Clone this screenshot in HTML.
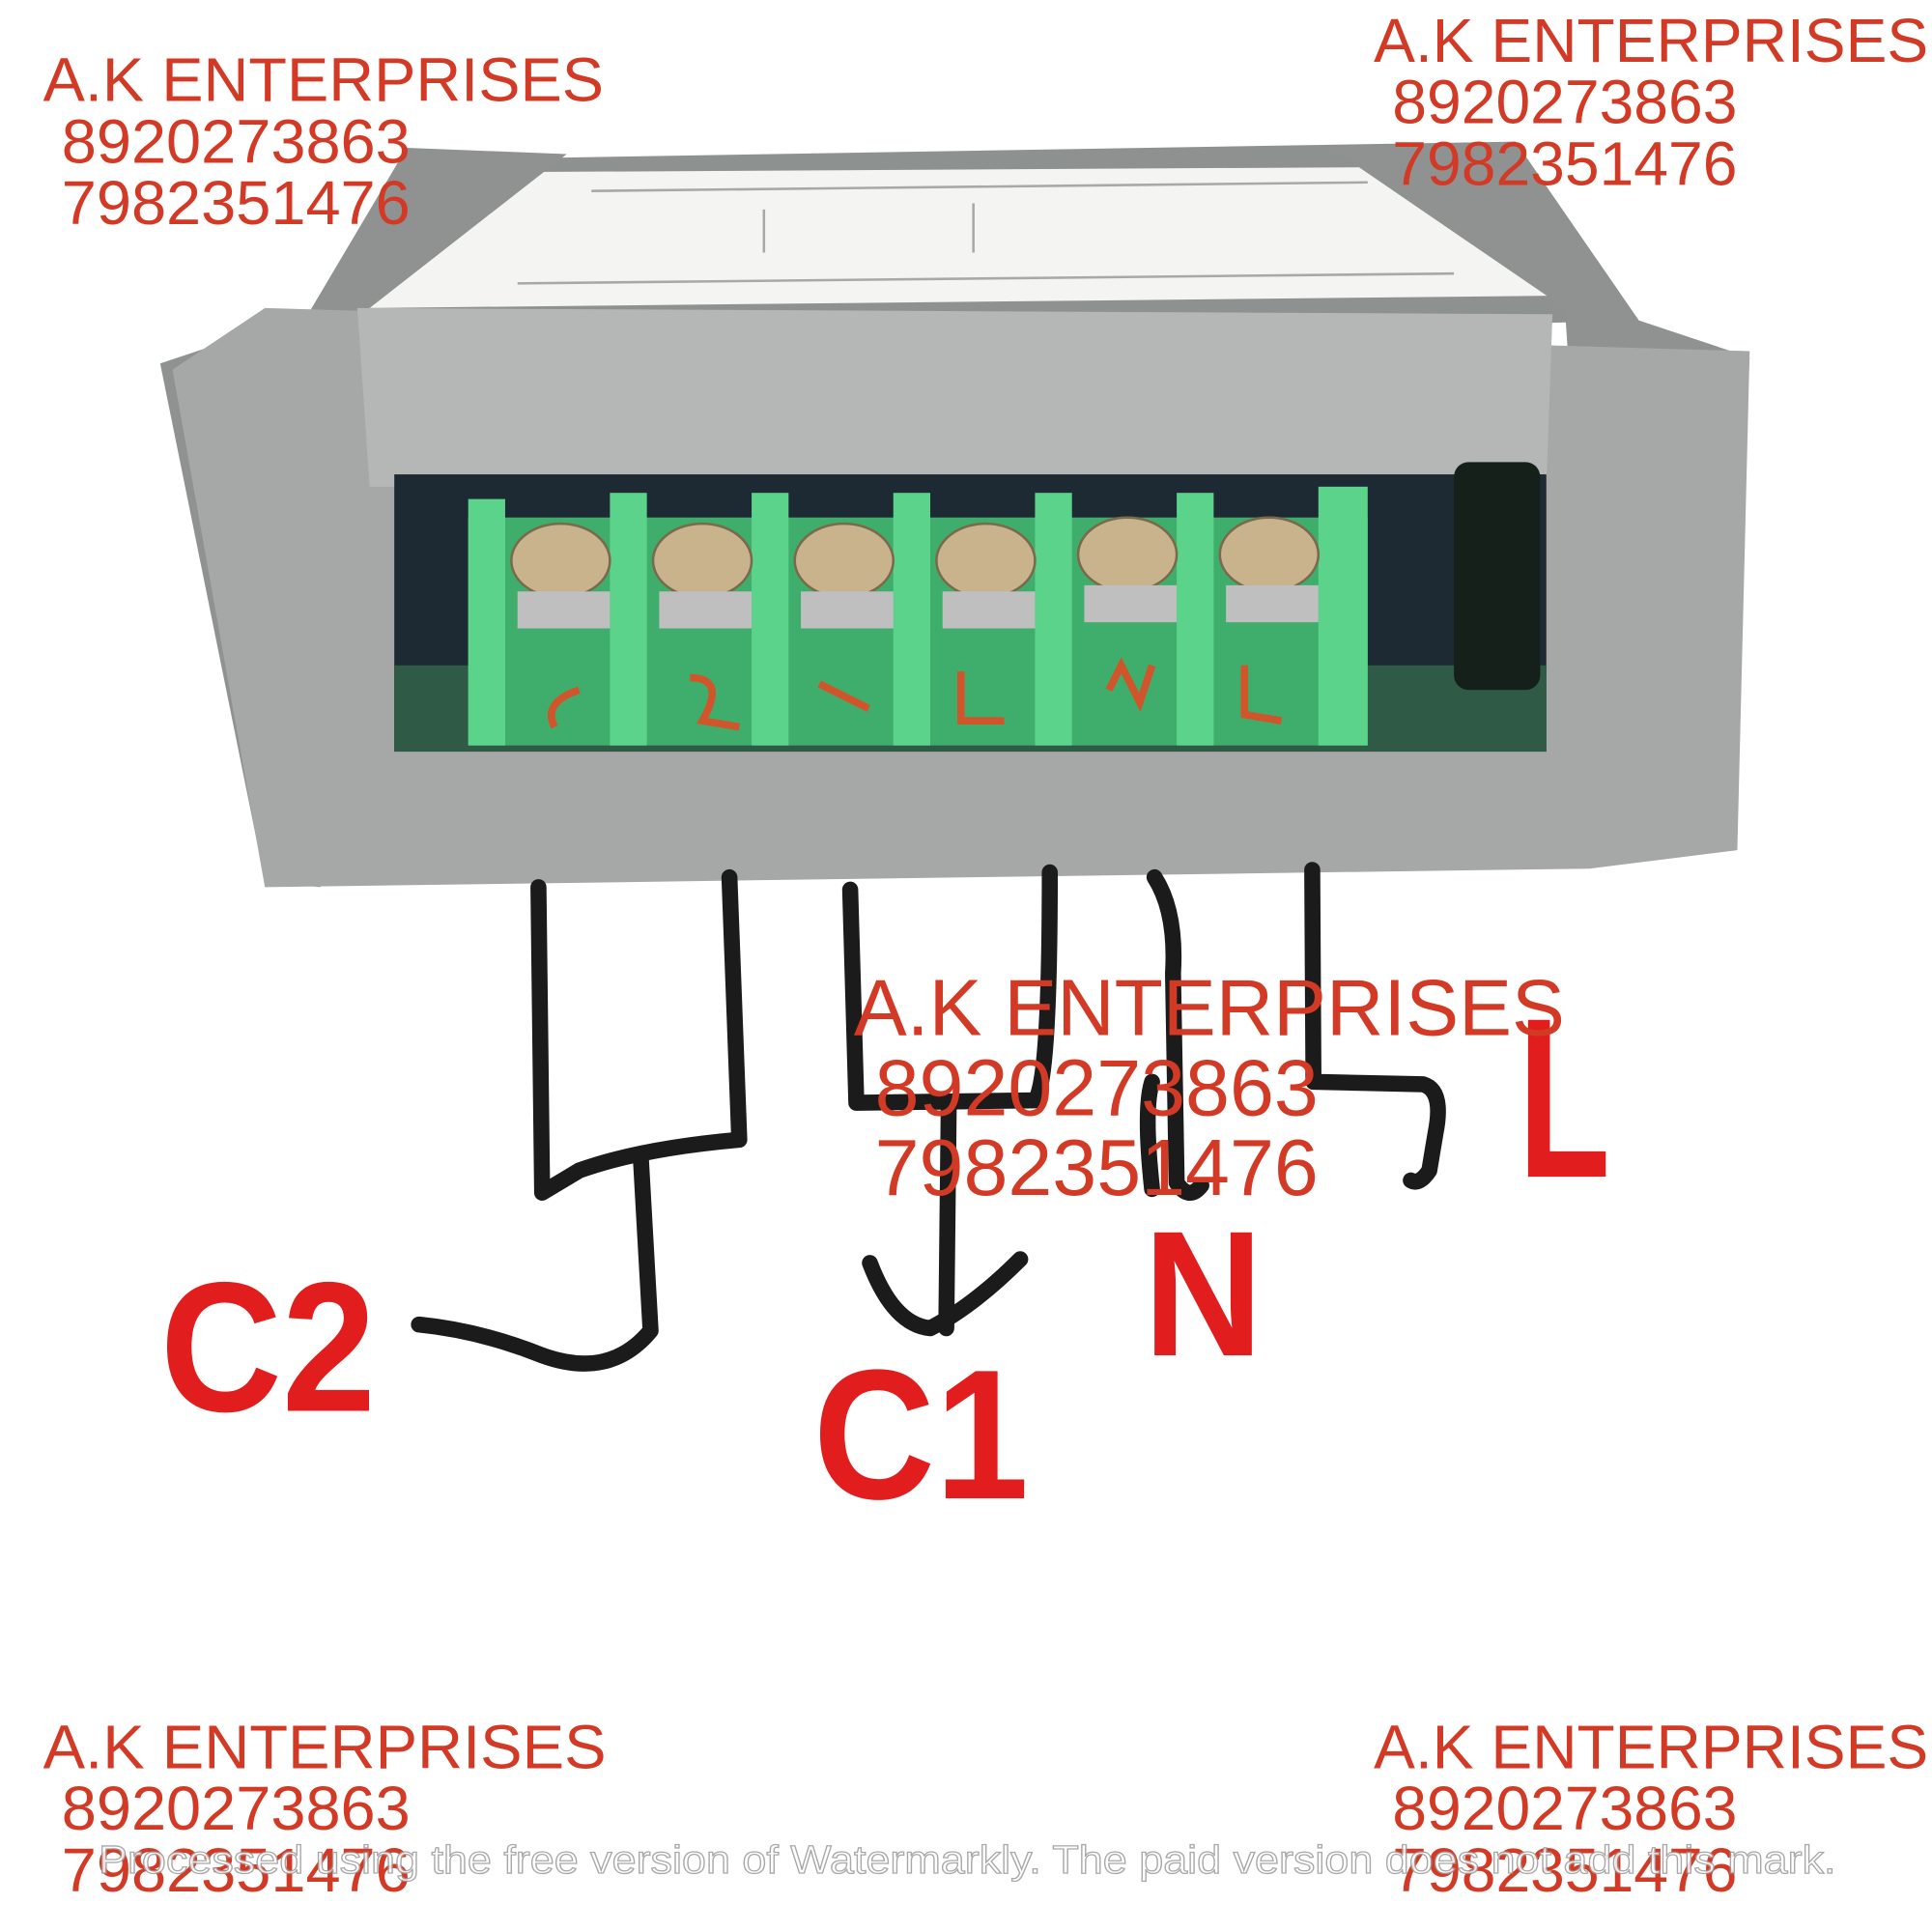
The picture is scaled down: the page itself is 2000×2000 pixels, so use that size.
<!DOCTYPE html>
<html><head><meta charset="utf-8"><style>
html,body{margin:0;padding:0;background:#fff;width:2000px;height:2000px;overflow:hidden}
svg{display:block}
.wm{font-family:"Liberation Sans",sans-serif;font-size:50px;fill:#d33a25}
.lb{font-family:"Liberation Sans",sans-serif;font-weight:bold;fill:#e21d1d}
</style></head><body>
<svg width="2000" height="2000" viewBox="0 0 1568 1568" xmlns="http://www.w3.org/2000/svg">
<rect width="1568" height="1568" fill="#fff"/>
<polygon points="330,130 1230,115 1330,260 230,290" fill="#8d9190"/>
<polygon points="360,140 1235,135 1260,240 300,250" fill="#f4f4f2"/>
<g stroke="#777" stroke-width="2" opacity="0.6">
<line x1="420" y1="230" x2="1180" y2="222"/>
<line x1="480" y1="155" x2="1110" y2="148"/>
<line x1="620" y1="170" x2="620" y2="205"/><line x1="790" y1="165" x2="790" y2="205"/>
</g>
<polygon points="130,295 250,255 330,120 460,125 300,250 260,720 215,715" fill="#8f9291"/>
<polygon points="1230,115 1330,260 1420,290 1400,690 1300,690 1270,250 1080,120" fill="#8f9291"/>
<polygon points="215,250 1420,285 1410,690 1290,705 215,720 140,300" fill="#a5a8a7"/>
<polygon points="290,250 1260,255 1255,395 300,395" fill="#b4b7b6"/>
<rect x="320" y="385" width="935" height="225" fill="#1e2a33"/>
<rect x="320" y="540" width="935" height="70" fill="#2f5a45"/>
<rect x="380" y="420" width="730" height="185" fill="#3fae6c"/>
<g fill="#5bd38a">
<rect x="380" y="405" width="30" height="200"/><rect x="495" y="400" width="30" height="205"/>
<rect x="610" y="400" width="30" height="205"/><rect x="725" y="400" width="30" height="205"/>
<rect x="840" y="400" width="30" height="205"/><rect x="955" y="400" width="30" height="205"/>
<rect x="1070" y="395" width="40" height="210"/>
</g>
<g fill="#c9b38d" stroke="#7a6a4c" stroke-width="2">
<ellipse cx="455" cy="455" rx="40" ry="30"/><ellipse cx="570" cy="455" rx="40" ry="30"/>
<ellipse cx="685" cy="455" rx="40" ry="30"/><ellipse cx="800" cy="455" rx="40" ry="30"/>
<ellipse cx="915" cy="450" rx="40" ry="30"/><ellipse cx="1030" cy="450" rx="40" ry="30"/>
</g>
<g fill="#bfbfbf"><rect x="420" y="480" width="75" height="30"/><rect x="535" y="480" width="75" height="30"/><rect x="650" y="480" width="75" height="30"/><rect x="765" y="480" width="75" height="30"/><rect x="880" y="475" width="75" height="30"/><rect x="995" y="475" width="75" height="30"/></g>
<g fill="none" stroke="#d0552a" stroke-width="6">
<path d="M470,560 q-30,10 -20,30"/><path d="M560,550 q30,0 10,35 l30,5"/><path d="M665,555 l40,20"/><path d="M780,545 l0,40 l35,0"/><path d="M900,560 l10,-20 l15,30 l10,-30"/><path d="M1010,540 l0,40 l30,5"/>
</g>
<rect x="1180" y="375" width="70" height="185" rx="12" fill="#16201a"/>
<g fill="none" stroke="#1b1b1b" stroke-width="13" stroke-linecap="round" stroke-linejoin="round">
<path d="M437,720 L440,968 L470,950 Q520,932 600,925 L592,712"/>
<path d="M520,938 L528,1080 Q495,1120 440,1100 Q390,1080 340,1075"/>
<path d="M690,722 L695,895 L840,893 Q852,880 852,708"/>
<path d="M770,895 L768,1078"/>
<path d="M706,1025 Q725,1075 755,1078 Q790,1060 828,1022"/>
<path d="M937,712 Q955,740 952,790 L955,960 Q965,975 975,962"/>
<path d="M935,878 Q928,900 935,965"/>
<path d="M1065,706 L1066,878 L1155,880 Q1172,885 1165,920 L1160,950 Q1152,962 1145,958"/>
</g>
<text class="lb" x="130" y="1145" font-size="150" textLength="175" lengthAdjust="spacingAndGlyphs">C2</text>
<text class="lb" x="660" y="1216" font-size="150" textLength="175" lengthAdjust="spacingAndGlyphs">C1</text>
<text class="lb" x="928" y="1100" font-size="145" textLength="97" lengthAdjust="spacingAndGlyphs">N</text>
<text class="lb" x="1232" y="955" font-size="185" textLength="75" lengthAdjust="spacingAndGlyphs">L</text>
<g class="wm">
<text x="35" y="82" textLength="455" lengthAdjust="spacingAndGlyphs">A.K ENTERPRISES</text><text x="50" y="132" textLength="283" lengthAdjust="spacingAndGlyphs">8920273863</text><text x="50" y="182" textLength="283" lengthAdjust="spacingAndGlyphs">7982351476</text>
<text x="1115" y="50" textLength="450" lengthAdjust="spacingAndGlyphs">A.K ENTERPRISES</text><text x="1130" y="100" textLength="280" lengthAdjust="spacingAndGlyphs">8920273863</text><text x="1130" y="150" textLength="280" lengthAdjust="spacingAndGlyphs">7982351476</text>
<text x="35" y="1435" textLength="457" lengthAdjust="spacingAndGlyphs">A.K ENTERPRISES</text><text x="50" y="1485" textLength="283" lengthAdjust="spacingAndGlyphs">8920273863</text><text x="50" y="1535" textLength="283" lengthAdjust="spacingAndGlyphs">7982351476</text>
<text x="1115" y="1435" textLength="450" lengthAdjust="spacingAndGlyphs">A.K ENTERPRISES</text><text x="1130" y="1485" textLength="280" lengthAdjust="spacingAndGlyphs">8920273863</text><text x="1130" y="1535" textLength="280" lengthAdjust="spacingAndGlyphs">7982351476</text>
<text x="693" y="840" font-size="65" textLength="577" lengthAdjust="spacingAndGlyphs">A.K ENTERPRISES</text><text x="710" y="905" font-size="65" textLength="360" lengthAdjust="spacingAndGlyphs">8920273863</text><text x="710" y="970" font-size="65" textLength="360" lengthAdjust="spacingAndGlyphs">7982351476</text>
</g>
<text x="80" y="1520" font-family="Liberation Sans,sans-serif" font-size="32" fill="#fff" stroke="#999" stroke-width="1" opacity="0.85" textLength="1410" lengthAdjust="spacingAndGlyphs">Processed using the free version of Watermarkly. The paid version does not add this mark.</text>
</svg>
</body></html>
